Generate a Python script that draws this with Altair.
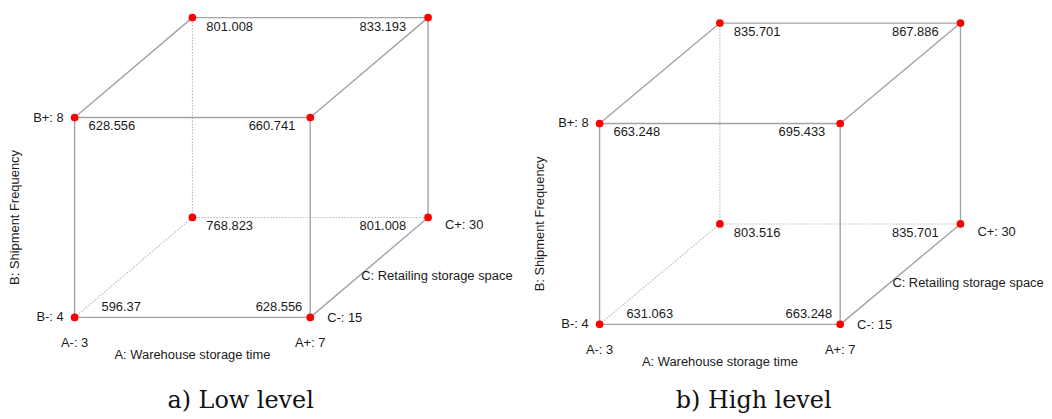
import altair as alt
import pandas as pd

# ---- data ----
A_levels = ["A-: 3", "A+: 7"]
B_levels = ["B-: 4", "B+: 8"]
C_levels = ["C-: 15", "C+: 30"]
axis_names = ["A: Warehouse storage time", "B: Shipment Frequency", "C: Retailing storage space"]

corner_A = [0, 1, 0, 1, 0, 1, 0, 1]
corner_B = [0, 0, 1, 1, 0, 0, 1, 1]
corner_C = [0, 0, 0, 0, 1, 1, 1, 1]
low_values = [596.37, 628.556, 628.556, 660.741, 768.823, 801.008, 801.008, 833.193]
high_values = [631.063, 663.248, 663.248, 695.433, 803.516, 835.701, 835.701, 867.886]

captions = ["a) Low level", "b) High level"]

DEPTH = 0.5  # oblique projection factor for factor C
W, H = 516, 398
LINE = "#a3a3a3"
FONT = "Liberation Sans"


def proj(a, b, c):
    return a + DEPTH * c, b + DEPTH * c


def build_panel(values, caption, xdom, ydom):
    u, v = zip(*[proj(a, b, c) for a, b, c in zip(corner_A, corner_B, corner_C)])
    corners = pd.DataFrame({
        "A": corner_A, "B": corner_B, "C": corner_C,
        "u": u, "v": v, "val": values,
        "Alab": [A_levels[a] for a in corner_A],
        "Blab": [B_levels[b] for b in corner_B],
        "Clab": [C_levels[c] for c in corner_C],
    })
    # edges between corners differing in one factor
    rows = []
    n = len(corner_A)
    for i in range(n):
        for j in range(i + 1, n):
            d = abs(corner_A[i] - corner_A[j]) + abs(corner_B[i] - corner_B[j]) + abs(corner_C[i] - corner_C[j])
            if d == 1:
                hidden = any(corner_A[k] == 0 and corner_B[k] == 0 and corner_C[k] == 1 for k in (i, j))
                rows.append({"u": u[i], "v": v[i], "u2": u[j], "v2": v[j], "hidden": hidden})
    edges = pd.DataFrame(rows)

    xs = alt.Scale(domain=xdom, nice=False, zero=False)
    ys = alt.Scale(domain=ydom, nice=False, zero=False)
    X = alt.X("u:Q", scale=xs, axis=None)
    Y = alt.Y("v:Q", scale=ys, axis=None)

    base_e = alt.Chart(edges)
    solid = base_e.mark_rule(color=LINE, strokeWidth=1.4).encode(
        x=X, y=Y, x2="u2:Q", y2="v2:Q").transform_filter("!datum.hidden")
    dotted = base_e.mark_rule(color="#b8b8b8", strokeWidth=1.1, strokeDash=[1.5, 1.5]).encode(
        x=X, y=Y, x2="u2:Q", y2="v2:Q").transform_filter("datum.hidden")

    base = alt.Chart(corners).encode(x=X, y=Y)
    pts = base.mark_point(filled=True, color="#ff0000", size=60, opacity=1, shape="circle")

    def vtext(flt, align, dx, dy):
        return base.mark_text(align=align, baseline="middle", dx=dx, dy=dy, font=FONT,
                              fontSize=13, color="#1a1a1a").encode(
            text=alt.Text("val:Q", format=".3~f")).transform_filter(flt)

    def ltext(field, flt, align, dx, dy):
        return base.mark_text(align=align, baseline="middle", dx=dx, dy=dy, font=FONT,
                              fontSize=13, color="#1a1a1a").encode(
            text=f"{field}:N").transform_filter(flt)

    vals = [
        vtext("datum.A==0 && !(datum.B==0 && datum.C==0)", "left", 14, 9),
        vtext("datum.A==1 && datum.C==1", "right", -22, 9),
        vtext("datum.A==1 && datum.B==1 && datum.C==0", "right", -15, 9),
        vtext("datum.A==0 && datum.B==0 && datum.C==0", "left", 27, -10),
        vtext("datum.A==1 && datum.B==0 && datum.C==0", "right", -8, -10),
    ]
    levs = [
        ltext("Blab", "datum.A==0 && datum.C==0", "right", -11, 0),
        ltext("Alab", "datum.B==0 && datum.C==0", "center", 0, 26),
        ltext("Clab", "datum.A==1 && datum.B==0 && datum.C==0", "left", 17, 1),
        ltext("Clab", "datum.A==1 && datum.B==0 && datum.C==1", "left", 17, 8),
    ]

    # axis titles at midpoints of the three factor edges
    au, av = proj(0.5, 0, 0)
    bu, bv = proj(0, 0.5, 0)
    cu, cv = proj(1, 0, 0.5)
    titles = pd.DataFrame({"u": [au, bu, cu], "v": [av, bv, cv], "t": axis_names})
    tb = alt.Chart(titles).encode(x=X, y=Y, text="t:N")
    tA = tb.mark_text(align="center", baseline="middle", dy=38, font=FONT, fontSize=13,
                      color="#1a1a1a").transform_filter("datum.t == '%s'" % axis_names[0])
    tB = tb.mark_text(align="center", baseline="middle", dy=-60, angle=270, font=FONT, fontSize=13,
                      color="#1a1a1a").transform_filter("datum.t == '%s'" % axis_names[1])
    tC = tb.mark_text(align="left", baseline="middle", dx=-8, dy=9, font=FONT, fontSize=13,
                      color="#1a1a1a").transform_filter("datum.t == '%s'" % axis_names[2])

    cap = alt.Chart(pd.DataFrame({"c": [caption]})).mark_text(
        align="center", baseline="alphabetic", font="DejaVu Serif", fontSize=24, color="#111111"
    ).encode(text="c:N", x=alt.value(232), y=alt.value(H + 3))

    return alt.layer(dotted, solid, pts, *vals, *levs, tA, tB, tC, cap).properties(width=W, height=H)


left = build_panel(low_values, captions[0], [-65 / 237, -65 / 237 + W / 237], [-(H + 8 - 318) / 201, 310 / 201])
right = build_panel(high_values, captions[1], [-77 / 242, -77 / 242 + W / 242], [-(H + 8 - 325) / 202, 317 / 202])

chart = alt.hconcat(left, right, spacing=0).properties(padding=0).configure_view(stroke=None)
chart.save("out.html", embed_options={"renderer": "svg", "actions": False})
